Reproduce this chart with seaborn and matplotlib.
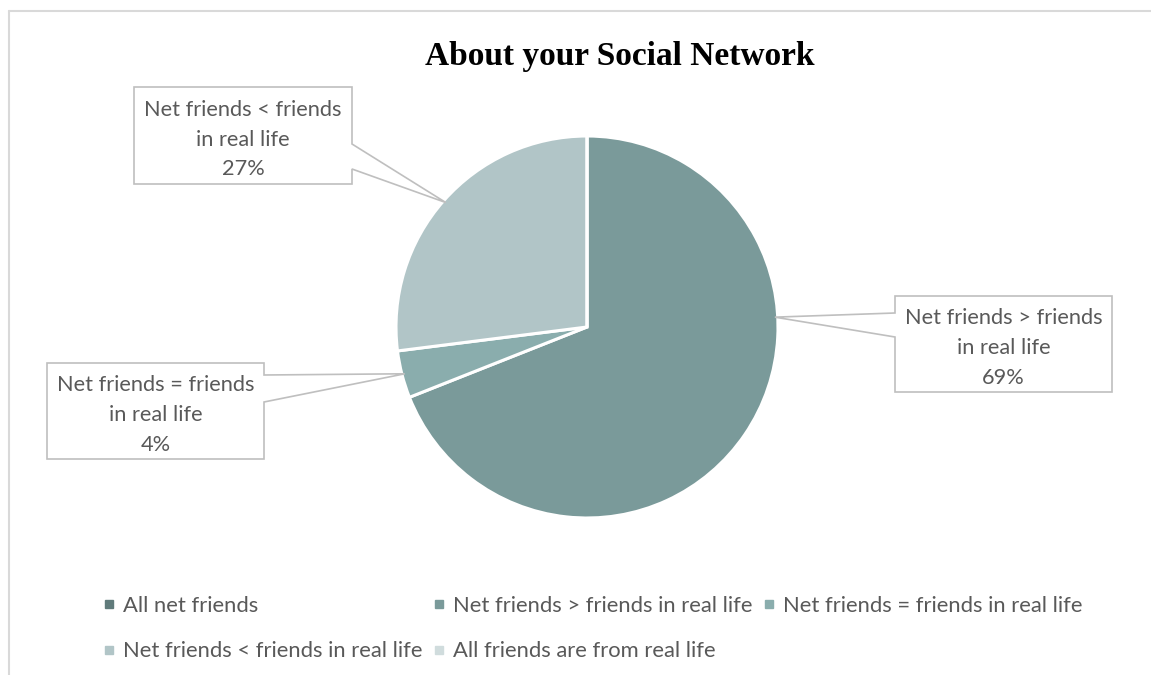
import matplotlib
matplotlib.use("Agg")
import numpy as np
import matplotlib.pyplot as plt
from matplotlib.patches import Polygon
from matplotlib.lines import Line2D
import seaborn as sns

# ---- data ----
categories = [
    "All net friends",
    "Net friends > friends in real life",
    "Net friends = friends in real life",
    "Net friends < friends in real life",
    "All friends are from real life",
]
shares = [0, 69, 4, 27, 0]
callout_names = [
    "",
    "Net friends > friends\nin real life",
    "Net friends = friends\nin real life",
    "Net friends < friends\nin real life",
    "",
]
slice_colors = ["#607b7b", "#7a9a9a", "#8aadad", "#b1c5c7", "#d0dcdd"]

# ---- style ----
sns.set_theme(style="white")
plt.rcParams["font.family"] = ["Lato", "DejaVu Sans"]
text_grey = "#595959"
edge_grey = "#bfbfbf"

W, H = 1151, 675
fig = plt.figure(figsize=(W / 100, H / 100), dpi=100)
fig.patch.set_facecolor("white")


def fx(px):
    return px / W


def fy(py):
    return 1 - py / H


# chart-area border (top and left edges)
fig.add_artist(Line2D([fx(9), 1], [fy(11), fy(11)], color="#d9d9d9", lw=1.5,
                      transform=fig.transFigure))
fig.add_artist(Line2D([fx(9), fx(9)], [fy(11), 0], color="#d9d9d9", lw=1.5,
                      transform=fig.transFigure))

# ---- pie ----
cx, cy, r = 587, 327, 191
ax = fig.add_axes([fx(cx - r), fy(cy + r), 2 * r / W, 2 * r / H])
wedges, _ = ax.pie(shares, colors=slice_colors, startangle=90, counterclock=False,
                   radius=1, wedgeprops=dict(edgecolor="white", linewidth=2.2))
ax.set_xlim(-1, 1)
ax.set_ylim(-1, 1)
ax.set_aspect("equal")
ax.axis("off")
ax.apply_aspect()

# ---- callout labels ----
# box: (left, top, right, bottom) in pixels; pointer side and its y-span on the box edge
callout_layout = {
    1: dict(box=(895, 296, 1112, 392), side="left", span=(313, 337), angle=3.0),
    2: dict(box=(47, 363, 264, 459), side="right", span=(375, 402), angle=None),
    3: dict(box=(134, 87, 352, 184), side="right", span=(144, 169), angle=None),
}

for i, lay in callout_layout.items():
    w = wedges[i]
    ang = lay["angle"] if lay["angle"] is not None else 0.5 * (w.theta1 + w.theta2)
    tip_disp = ax.transData.transform((0.985 * np.cos(np.radians(ang)),
                                       0.985 * np.sin(np.radians(ang))))
    tx, ty = tip_disp[0], H - tip_disp[1]
    l, t, rr, b = lay["box"]
    y1, y2 = lay["span"]
    if lay["side"] == "right":
        pts = [(l, t), (rr, t), (rr, y1), (tx, ty), (rr, y2), (rr, b), (l, b)]
    else:
        pts = [(l, t), (rr, t), (rr, b), (l, b), (l, y2), (tx, ty), (l, y1)]
    poly = Polygon([(fx(px), fy(py)) for px, py in pts], closed=True,
                   facecolor="white", edgecolor=edge_grey, lw=1.2,
                   transform=fig.transFigure, zorder=5)
    fig.add_artist(poly)
    fig.text(fx((l + rr) / 2), fy((t + b) / 2 + 4),
             f"{callout_names[i]}\n{shares[i]}%", ha="center", va="center",
             fontsize=15.7, color=text_grey, linespacing=1.62, zorder=6)

# ---- title ----
fig.text(fx(620), fy(57), "About your Social Network", ha="center", va="center",
         fontsize=24, fontweight="bold", color="black",
         family=["Liberation Serif", "DejaVu Serif"])

# ---- legend ----
order = [0, 3, 1, 4, 2]
handles = [Line2D([], [], marker="s", linestyle="none", markersize=6,
                  markerfacecolor=slice_colors[k], markeredgecolor=slice_colors[k])
           for k in order]
labels = [categories[k] for k in order]
leg = fig.legend(handles, labels, ncol=3, loc="upper left",
                 bbox_to_anchor=(fx(102), fy(596)), frameon=False, fontsize=15.8,
                 handlelength=0.6, handletextpad=0.35, columnspacing=0.45,
                 labelspacing=1.15, borderpad=0, borderaxespad=0)
for txt in leg.get_texts():
    txt.set_color(text_grey)

fig.savefig("out.png", dpi=100, facecolor="white")
